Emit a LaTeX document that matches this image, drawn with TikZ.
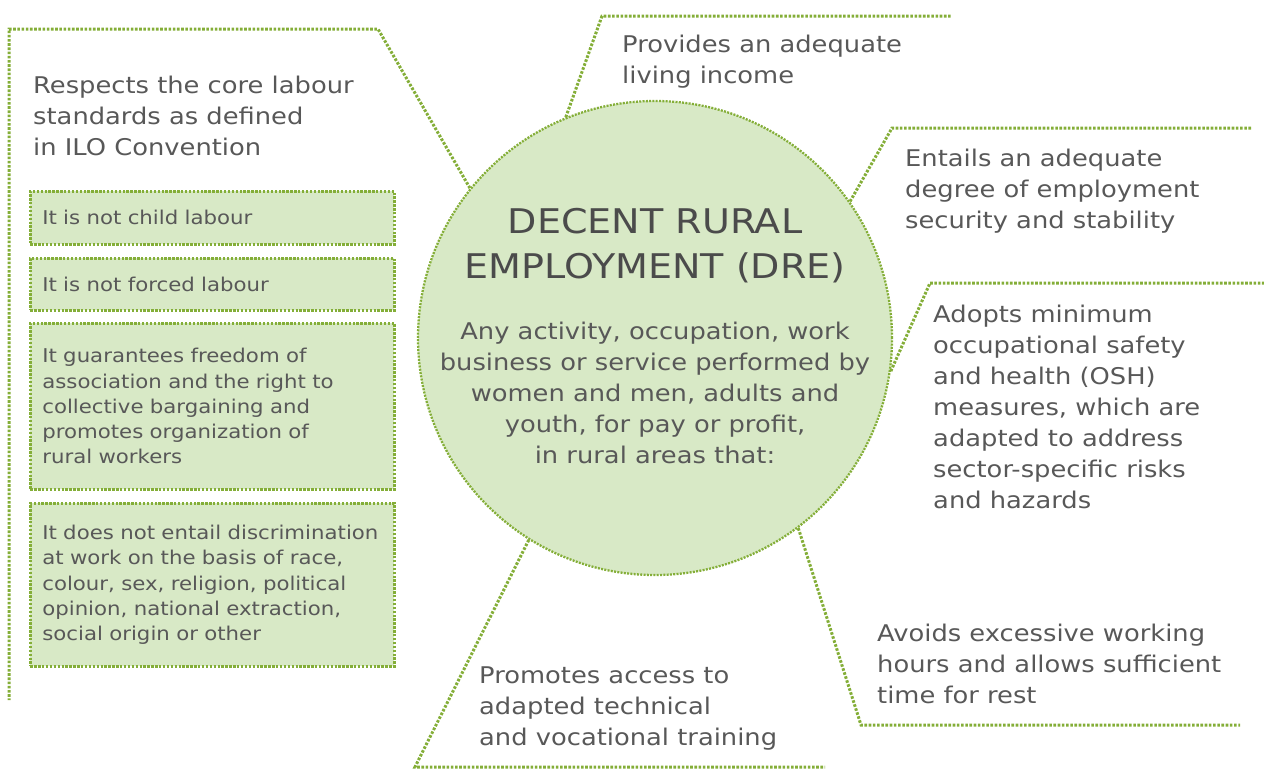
\documentclass[tikz,border=0pt]{standalone}
\usepackage{fontspec}
\setmainfont{DejaVu Sans}[FakeStretch=1.12]
\definecolor{dregreen}{HTML}{84AE38}
\definecolor{drefill}{HTML}{D8E9C6}
\definecolor{dretext}{HTML}{585858}
\tikzset{
    dotline/.style = {draw=dregreen, line width=3pt, dash pattern=on 2.6pt off 1.6pt},
    crit/.style = {anchor=base west, align=left, inner sep=0pt, text=dretext,
                   font=\fontsize{23}{31}\selectfont},
    condbox/.style = {draw=dregreen, fill=drefill, line width=2.6pt, dash pattern=on 2.4pt off 1.5pt,
                      anchor=north west, text width=340pt, inner xsep=12pt, inner ysep=0pt,
                      align=left, text=dretext, font=\fontsize{19}{25.3}\selectfont}
}
\begin{document}
\begin{tikzpicture}[x=1pt, y=-1pt]
    \useasboundingbox (0,0) rectangle (1264,769);
    % the central circle
    \node [circle, minimum size=474pt, inner sep=0pt, fill=drefill, draw=dregreen,
           line width=2.3pt, dash pattern=on 2pt off 1.3pt] (dre) at (655,338) {};
    \node [anchor=base, align=center, inner sep=0pt, text=dretext!85!black,
           font=\fontsize{34}{45}\selectfont] (title) at (655,278) {DECENT RURAL\\EMPLOYMENT (DRE)};
    \node [anchor=base, align=center, inner sep=0pt, text=dretext,
           font=\fontsize{23}{31}\selectfont] (scope) at (655,463)
          {Any activity, occupation, work\\business or service performed by\\women and men, adults and\\youth, for pay or profit,\\in rural areas that:};
    % left: core labour standards
    \coordinate (lbend) at (378,29);
    \coordinate (ltop) at (9,29);
    \coordinate (lend) at (9,700);
    \draw [dotline] (dre.141) -- (lbend) -- (ltop) -- (lend);
    \node [crit] (core) at (33,155) {Respects the core labour\\standards as defined\\in ILO Convention};
    \node [condbox, minimum height=53pt] (child) at (29,190) {It is not child labour};
    \node [condbox, minimum height=52pt] (forced) at (29,257) {It is not forced labour};
    \node [condbox, minimum height=166pt] (assoc) at (29,322)
          {It guarantees freedom of\\association and the right to\\collective bargaining and\\promotes organization of\\rural workers};
    \node [condbox, minimum height=163pt] (discr) at (29,502)
          {It does not entail discrimination\\at work on the basis of race,\\colour, sex, religion, political\\opinion, national extraction,\\social origin or other};
    % right side criteria
    \coordinate (ibend) at (602,16);
    \coordinate (iend) at (952,16);
    \draw [dotline] (dre.112) -- (ibend) -- (iend);
    \node [crit] (income) at (622,83) {Provides an adequate\\living income};
    \coordinate (sbend) at (892,128);
    \coordinate (send) at (1252,128);
    \draw [dotline] (dre.35) -- (sbend) -- (send);
    \node [crit] (secur) at (905,228) {Entails an adequate\\degree of employment\\security and stability};
    \coordinate (obend) at (930,283);
    \coordinate (oend) at (1264,283);
    \draw [dotline] (dre.-8) -- (obend) -- (oend);
    \node [crit] (osh) at (933,508) {Adopts minimum\\occupational safety\\and health (OSH)\\measures, which are\\adapted to address\\sector-specific risks\\and hazards};
    \coordinate (hbend) at (861,725);
    \coordinate (hend) at (1240,725);
    \draw [dotline] (dre.-53) -- (hbend) -- (hend);
    \node [crit] (hours) at (877,703) {Avoids excessive working\\hours and allows sufficient\\time for rest};
    \coordinate (tbend) at (415,767);
    \coordinate (tend) at (825,767);
    \draw [dotline] (dre.238) -- (tbend) -- (tend);
    \node [crit] (train) at (479,745) {Promotes access to\\adapted technical\\and vocational training};
\end{tikzpicture}
\end{document}
